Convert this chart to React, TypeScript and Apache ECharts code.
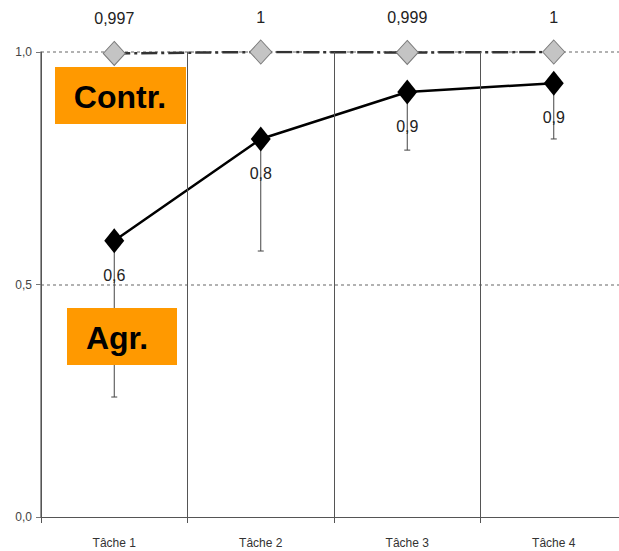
import React, { useEffect, useRef } from "react";
import * as echarts from "echarts";

const categories = ["Tâche 1", "Tâche 2", "Tâche 3", "Tâche 4"];
const contrValues = [0.997, 1, 0.999, 1];
const agrValues = [0.594, 0.813, 0.914, 0.933];
const agrLower = [0.258, 0.572, 0.789, 0.813];
const yTicks = [0, 0.5, 1];

const FONT = "'Liberation Sans Narrow', 'Liberation Sans', Arial, sans-serif";

export default function App() {
  const ref = useRef<HTMLDivElement>(null);
  useEffect(() => {
    if (!ref.current) return;
    const chart = echarts.init(ref.current, null, { renderer: "svg" });
    const errData = agrValues.map((v, i) => [i, v, agrLower[i]]);
    chart.setOption({
      animation: false,
      backgroundColor: "#ffffff",
      grid: { left: 41, top: 52, width: 586, height: 465, containLabel: false },
      xAxis: {
        type: "category",
        data: categories,
        boundaryGap: true,
        z: 5,
        axisLine: { lineStyle: { color: "#555", width: 1 } },
        axisTick: { show: true, length: 6, lineStyle: { color: "#555" } },
        axisLabel: { color: "#333", fontSize: 12, fontFamily: FONT, margin: 20 },
        splitLine: { show: true, lineStyle: { color: "#555", width: 1 } },
      },
      yAxis: {
        type: "value",
        min: yTicks[0],
        max: yTicks[yTicks.length - 1],
        interval: 0.5,
        axisLine: { show: true, lineStyle: { color: "#777", width: 1.5 } },
        axisTick: { show: true, length: 5, lineStyle: { color: "#777" } },
        axisLabel: {
          color: "#444",
          fontSize: 12,
          fontFamily: FONT,
          margin: 9,
          formatter: (v: number) => v.toFixed(1).replace(".", ","),
        },
        splitLine: {
          show: true,
          showMinLine: false,
          lineStyle: { color: "#999", type: [3, 3], width: 1.5 },
        },
      },
      series: [
        {
          type: "line",
          data: contrValues,
          symbol: "diamond",
          symbolSize: [22, 24],
          itemStyle: { color: "#c4c4c4", borderColor: "#7a7a7a", borderWidth: 1 },
          lineStyle: { color: "#333", width: 2.5, type: [16, 4, 3, 4] },
          z: 3,
          label: {
            show: true,
            position: "top",
            distance: 14,
            fontSize: 16,
            color: "#222",
            fontFamily: "'Liberation Sans', Arial, sans-serif",
            formatter: (p: any) => String(p.value).replace(".", ","),
          },
        },
        {
          type: "custom",
          data: errData,
          z: 2,
          renderItem: (params: any, api: any) => {
            const top = api.coord([api.value(0), api.value(1)]);
            const bot = api.coord([api.value(0), api.value(2)]);
            return {
              type: "group",
              children: [
                {
                  type: "line",
                  shape: { x1: top[0], y1: top[1], x2: bot[0], y2: bot[1] },
                  style: { stroke: "#444", lineWidth: 1 },
                },
                {
                  type: "line",
                  shape: { x1: bot[0] - 3, y1: bot[1], x2: bot[0] + 3, y2: bot[1] },
                  style: { stroke: "#444", lineWidth: 1 },
                },
              ],
            };
          },
        },
        {
          type: "line",
          data: agrValues,
          symbol: "diamond",
          symbolSize: [20, 25],
          itemStyle: { color: "#000" },
          lineStyle: { color: "#000", width: 2.5 },
          z: 4,
          label: {
            show: true,
            position: "bottom",
            distance: 14,
            fontSize: 16,
            color: "#222",
            fontFamily: "'Liberation Sans', Arial, sans-serif",
            formatter: (p: any) => Number(p.value).toFixed(1).replace(".", ","),
          },
        },
      ],
      graphic: [
        {
          type: "rect",
          shape: { x: 55, y: 67, width: 131, height: 57 },
          style: { fill: "#ff9900" },
          z: 10,
        },
        {
          type: "text",
          x: 120,
          y: 97,
          style: {
            text: "Contr.",
            font: "bold 32px 'Liberation Sans', Arial, sans-serif",
            fill: "#000",
            align: "center",
            verticalAlign: "middle",
          },
          z: 11,
        },
        {
          type: "rect",
          shape: { x: 67, y: 308, width: 110, height: 57 },
          style: { fill: "#ff9900" },
          z: 10,
        },
        {
          type: "text",
          x: 117,
          y: 338,
          style: {
            text: "Agr.",
            font: "bold 32px 'Liberation Sans', Arial, sans-serif",
            fill: "#000",
            align: "center",
            verticalAlign: "middle",
          },
          z: 11,
        },
      ],
    });
    return () => chart.dispose();
  }, []);
  return (
    <div
      style={{
        position: "absolute",
        left: 0,
        top: 0,
        width: 619,
        height: 551,
        overflow: "hidden",
      }}
    >
      <div ref={ref} style={{ width: 632, height: 551 }} />
    </div>
  );
}
